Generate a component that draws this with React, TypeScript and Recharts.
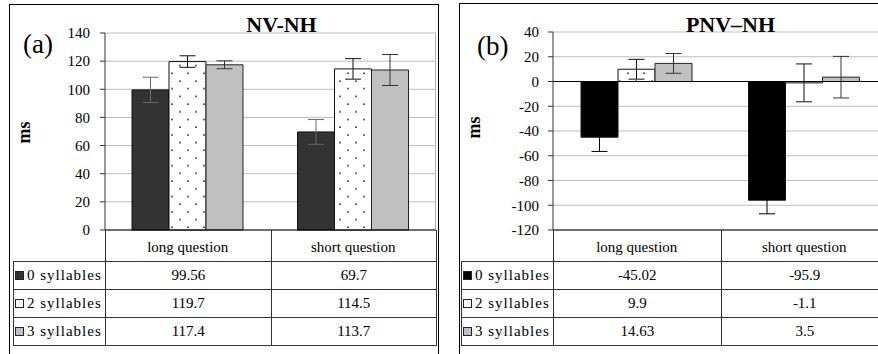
import React from 'react'
import { BarChart, Bar, XAxis, YAxis, CartesianGrid, ErrorBar, ReferenceLine } from 'recharts'

const FONT = '"Liberation Serif", "Times New Roman", serif'

const categories = ['long question', 'short question']
const seriesNames = ['0 syllables', '2 syllables', '3 syllables']

// (a) NV-NH
const nvnh0 = [99.56, 69.7]
const nvnh2 = [119.7, 114.5]
const nvnh3 = [117.4, 113.7]
const nvnhErr0 = [9, 8.8]
const nvnhErr2 = [4.1, 7.3]
const nvnhErr3 = [2.8, 11]
const nvnhTicks = [0, 20, 40, 60, 80, 100, 120, 140]

// (b) PNV-NH
const pnvnh0 = [-45.02, -95.9]
const pnvnh2 = [9.9, -1.1]
const pnvnh3 = [14.63, 3.5]
const pnvnhErr0 = [11.5, 11]
const pnvnhErr2 = [8, 15.3]
const pnvnhErr3 = [8, 16.8]
const pnvnhTicks = [-120, -100, -80, -60, -40, -20, 0, 20, 40]

type Cfg = {
  frameLeft: number
  frameTop: number
  frameWidth: number
  svgLeft: number
  svgWidth: number
  marginTop: number
  yAxisWidth: number
  tableLeft: number
  labelWidth: number
  colWidth: number
  tickMargin: number
}

const cfgA: Cfg = {
  frameLeft: 9, frameTop: 4, frameWidth: 430,
  svgLeft: 0, svgWidth: 438, marginTop: 33, yAxisWidth: 105,
  tableLeft: 13, labelWidth: 92, colWidth: 165.5, tickMargin: 10,
}
const cfgB: Cfg = {
  frameLeft: 459, frameTop: 3, frameWidth: 440,
  svgLeft: 440, svgWidth: 450, marginTop: 32, yAxisWidth: 113,
  tableLeft: 461, labelWidth: 92, colWidth: 167.5, tickMargin: 9,
}

const lineColor = '#333'

function Panel({ cfg, values, errors, ticks, colors, errColors, patternId, showPlotBorder }: {
  cfg: Cfg
  values: number[][]
  errors: number[][]
  ticks: number[]
  colors: string[]
  errColors: string[]
  patternId: string
  showPlotBorder: boolean
}) {
  const data = categories.map((name, i) => ({
    name,
    s0: values[0][i], s2: values[1][i], s3: values[2][i],
    e0: errors[0][i], e2: errors[1][i], e3: errors[2][i],
  }))
  const fills = [colors[0], `url(#${patternId})`, colors[2]]
  const cell: React.CSSProperties = {
    border: `1px solid ${lineColor}`, padding: 0, textAlign: 'center', verticalAlign: 'middle',
  }
  return (
    <>
      <div style={{
        position: 'absolute', left: cfg.frameLeft, top: cfg.frameTop, width: cfg.frameWidth,
        height: 400, border: '1px solid #000', boxSizing: 'border-box',
      }} />
      {showPlotBorder && (
        <div style={{
          position: 'absolute', left: cfg.svgLeft + cfg.svgWidth - 3, top: cfg.marginTop,
          height: 230 - cfg.marginTop, borderLeft: '1px solid #b0b0b0',
        }} />
      )}
      <div style={{ position: 'absolute', left: cfg.svgLeft, top: 0 }}>
        <BarChart
          width={cfg.svgWidth}
          height={262}
          data={data}
          margin={{ top: cfg.marginTop, right: 2, bottom: 0, left: 0 }}
          barSize={37}
          barGap={0}
        >
          <defs>
            <pattern id={patternId} width="16" height="15.4" patternUnits="userSpaceOnUse">
              <rect width="16" height="15.4" fill="#fff" />
              <circle cx="4" cy="4" r="0.9" fill="#222" />
              <circle cx="12" cy="11.7" r="0.9" fill="#222" />
            </pattern>
          </defs>
          <CartesianGrid vertical={false} stroke="#bdbdbd" />
          <XAxis
            dataKey="name"
            height={32}
            tickLine={false}
            tickSize={0}
            tickMargin={11}
            interval={0}
            axisLine={{ stroke: '#000' }}
            tick={{ fontSize: 15, fill: '#000', fontFamily: FONT }}
          />
          <YAxis
            type="number"
            width={cfg.yAxisWidth}
            domain={[ticks[0], ticks[ticks.length - 1]]}
            ticks={ticks}
            interval={0}
            tickSize={5}
            tickMargin={cfg.tickMargin}
            axisLine={{ stroke: lineColor }}
            tickLine={{ stroke: lineColor }}
            tick={{ fontSize: 15, fill: '#000', fontFamily: FONT }}
          />
          {ticks[0] < 0 && <ReferenceLine y={0} stroke="#000" />}
          <Bar dataKey="s0" fill={fills[0]} stroke="#111" isAnimationActive={false}>
            <ErrorBar dataKey="e0" width={8} stroke={errColors[0]} strokeWidth={1} />
          </Bar>
          <Bar dataKey="s2" fill={fills[1]} stroke="#111" isAnimationActive={false}>
            <ErrorBar dataKey="e2" width={8} stroke={errColors[1]} strokeWidth={1} />
          </Bar>
          <Bar dataKey="s3" fill={fills[2]} stroke="#222" isAnimationActive={false}>
            <ErrorBar dataKey="e3" width={8} stroke={errColors[2]} strokeWidth={1} />
          </Bar>
        </BarChart>
      </div>
      <table style={{
        position: 'absolute', left: cfg.tableLeft, top: 230, borderCollapse: 'collapse',
        tableLayout: 'fixed', width: cfg.labelWidth + 2 * cfg.colWidth,
        fontFamily: FONT, fontSize: 15, color: '#000',
      }}>
        <colgroup>
          <col style={{ width: cfg.labelWidth }} />
          <col style={{ width: cfg.colWidth }} />
          <col style={{ width: cfg.colWidth }} />
        </colgroup>
        <tbody>
          <tr style={{ height: 31 }}>
            <td style={{ border: 'none', padding: 0 }} />
            {categories.map((c) => (
              <td key={c} style={{ ...cell, borderTop: 'none' }} />
            ))}
          </tr>
          {seriesNames.map((s, r) => (
            <tr key={s} style={{ height: 28 }}>
              <td style={{ ...cell, textAlign: 'left', paddingLeft: 1, whiteSpace: 'nowrap', letterSpacing: 1 }}>
                <span style={{
                  display: 'inline-block', width: 7, height: 7, background: colors[r],
                  border: '1px solid #222', marginRight: 3, verticalAlign: 'baseline',
                }} />
                {s}
              </td>
              {values[r].map((v, i) => (
                <td key={i} style={cell}>{String(v)}</td>
              ))}
            </tr>
          ))}
        </tbody>
      </table>
    </>
  )
}

export default function App() {
  return (
    <div style={{
      position: 'absolute', left: 0, top: 0, width: 878, height: 354,
      overflow: 'hidden', background: '#fff', fontFamily: FONT,
    }}>
      <Panel
        cfg={cfgA}
        values={[nvnh0, nvnh2, nvnh3]}
        errors={[nvnhErr0, nvnhErr2, nvnhErr3]}
        ticks={nvnhTicks}
        colors={['#333333', '#ffffff', '#c0c0c0']}
        errColors={['#6a6a6a', '#111', '#333']}
        patternId="dotsA"
        showPlotBorder
      />
      <Panel
        cfg={cfgB}
        values={[pnvnh0, pnvnh2, pnvnh3]}
        errors={[pnvnhErr0, pnvnhErr2, pnvnhErr3]}
        ticks={pnvnhTicks}
        colors={['#000000', '#ffffff', '#c0c0c0']}
        errColors={['#000', '#111', '#333']}
        patternId="dotsB"
        showPlotBorder={false}
      />
      <svg width={878} height={354} style={{ position: 'absolute', left: 0, top: 0, pointerEvents: 'none' }}>
        <g fontFamily={FONT} fill="#000">
          <text x={281.5} y={31.5} textAnchor="middle" fontSize={22} fontWeight="bold">NV-NH</text>
          <text x={730.5} y={31.5} textAnchor="middle" fontSize={22} fontWeight="bold">PNV–NH</text>
          <text x={23} y={53} fontSize={27}>(a)</text>
          <text x={477} y={55} fontSize={27}>(b)</text>
          <text transform="translate(30,132.5) rotate(-90)" textAnchor="middle" fontSize={18} fontWeight="bold">ms</text>
          <text transform="translate(480,127.5) rotate(-90)" textAnchor="middle" fontSize={18} fontWeight="bold">ms</text>
        </g>
      </svg>
    </div>
  )
}
